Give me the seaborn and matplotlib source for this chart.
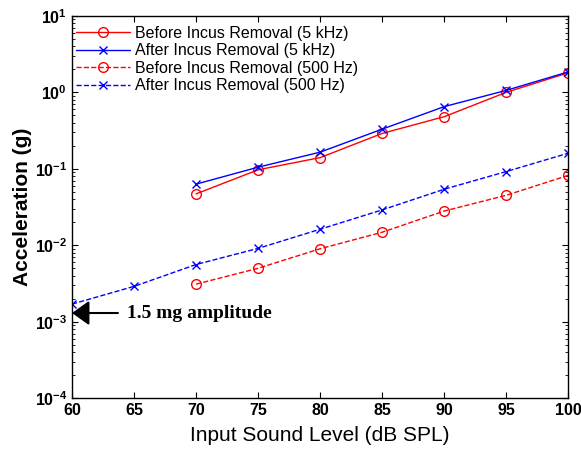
import numpy as np
import pandas as pd
import matplotlib
matplotlib.use("Agg")
import matplotlib.pyplot as plt
import seaborn as sns

# Input sound level (dB SPL)
levels_5k = [70, 75, 80, 85, 90, 95, 100]
levels_500 = [60, 65, 70, 75, 80, 85, 90, 95, 100]
levels_500_before = [70, 75, 80, 85, 90, 95, 100]

# Acceleration (g)
before_5k = [0.047, 0.097, 0.14, 0.29, 0.48, 1.0, 1.8]
after_5k = [0.063, 0.105, 0.165, 0.33, 0.65, 1.06, 1.85]
before_500 = [0.0031, 0.0050, 0.0090, 0.0148, 0.028, 0.045, 0.082]
after_500 = [0.0017, 0.0029, 0.0056, 0.0091, 0.0162, 0.029, 0.054, 0.092, 0.16]

labels = ["Before Incus Removal (5 kHz)", "After Incus Removal (5 kHz)",
          "Before Incus Removal (500 Hz)", "After Incus Removal (500 Hz)"]

df = pd.concat([
    pd.DataFrame({"level": levels_5k, "acc": before_5k, "series": labels[0]}),
    pd.DataFrame({"level": levels_5k, "acc": after_5k, "series": labels[1]}),
    pd.DataFrame({"level": levels_500_before, "acc": before_500, "series": labels[2]}),
    pd.DataFrame({"level": levels_500, "acc": after_500, "series": labels[3]}),
])

sns.set_style("ticks", {"text.color": "black", "axes.labelcolor": "black",
                        "xtick.color": "black", "ytick.color": "black",
                        "axes.edgecolor": "black"})
plt.rcParams["font.family"] = ["Liberation Sans", "DejaVu Sans"]

fig = plt.figure(figsize=(5.81, 4.53), dpi=100)
ax = fig.add_axes([0.124, 0.121, 0.854, 0.844])

colors = ["red", "blue", "red", "blue"]
markers = ["o", "x", "o", "x"]
styles = ["-", "-", "--", "--"]
for lab, c, m, ls in zip(labels, colors, markers, styles):
    sub = df[df["series"] == lab]
    sns.lineplot(data=sub, x="level", y="acc", ax=ax, color=c, marker=m,
                 linestyle=ls, linewidth=1.0,
                 markersize=7 if m == "o" else 5.5,
                 markerfacecolor="none" if m == "o" else c,
                 markeredgecolor=c, markeredgewidth=1.0, label=lab)

ax.set_yscale("log")
ax.set_xlim(60, 100)
ax.set_ylim(1e-4, 1e1)
ax.set_xticks(range(60, 101, 5))
ax.tick_params(which="both", direction="in", top=True, right=True)
ax.tick_params(which="major", length=4, width=0.8, labelsize=11.5)
ax.tick_params(which="minor", length=2, width=0.6)
for t in ax.get_xticklabels() + ax.get_yticklabels():
    t.set_fontweight("bold")
for s in ax.spines.values():
    s.set_linewidth(1.0)
    s.set_color("black")

ax.set_xlabel("Input Sound Level (dB SPL)", fontsize=15, labelpad=6)
ax.set_ylabel("Acceleration (g)", fontsize=15, fontweight="bold", labelpad=2)

ax.legend(loc="upper left", bbox_to_anchor=(0.0, 0.985), frameon=False,
          fontsize=11.5, handlelength=3.4, handletextpad=0.3,
          labelspacing=0.16, borderaxespad=0.1, borderpad=0.15)

# arrow pointing at the 1.5 mg level on the y axis
ax.annotate("", xy=(60, 1.3e-3), xytext=(63.7, 1.3e-3),
            arrowprops=dict(arrowstyle="-|>,head_length=0.7,head_width=0.5",
                            mutation_scale=15, color="black", lw=1.5,
                            shrinkA=0, shrinkB=0))
ax.text(64.4, 1.3e-3, "1.5 mg amplitude", fontsize=14, fontweight="bold",
        family="Liberation Serif", va="center", ha="left")

fig.savefig("out.png", dpi=100)
